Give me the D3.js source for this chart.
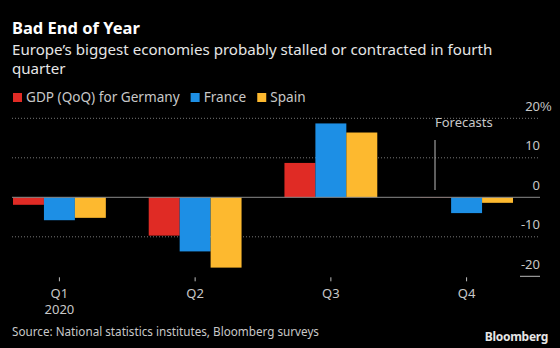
<!DOCTYPE html>
<html>
<head>
<meta charset="utf-8">
<script src="https://cdn.jsdelivr.net/npm/d3@7"></script>
<style>
  body { margin: 0; background: #000; }
  svg { display: block; font-family: "Noto Sans", sans-serif; }
</style>
</head>
<body>
<div id="container"></div>
<script>
let w = 560;
let h = 348;

// quarterly GDP change, percent
let quarters = ["Q1", "Q2", "Q3", "Q4"];
let germany = [-1.9, -9.7, 8.7, -0.1];
let france = [-5.8, -13.7, 18.7, -4.0];
let spain = [-5.2, -17.8, 16.4, -1.4];
let seriesNames = ["GDP (QoQ) for Germany", "France", "Spain"];
let yTicks = [20, 10, 0, -10, -20];

let colors = ["#e02b25", "#1d8fe5", "#fdb92f"];

let viz = d3.select("#container")
  .append("svg")
  .attr("width", w)
  .attr("height", h)
  .style("background", "#000");

// headline
viz.append("text")
  .attr("x", 12).attr("y", 34)
  .attr("fill", "#fff")
  .attr("font-size", 16.5).attr("font-weight", "bold")
  .text("Bad End of Year");

let sub = viz.append("text")
  .attr("x", 12).attr("y", 55)
  .attr("fill", "#e6e6e6")
  .attr("font-size", 15.1);
sub.append("tspan").attr("x", 12).text("Europe’s biggest economies probably stalled or contracted in fourth");
sub.append("tspan").attr("x", 12).attr("dy", 18.5).text("quarter");

// legend
let legend = viz.append("g").attr("transform", "translate(13, 0)");
let lx = 0;
seriesNames.forEach(function (name, i) {
  let g = legend.append("g").attr("transform", "translate(" + lx + ",0)");
  g.append("rect")
    .attr("x", 0).attr("y", 93)
    .attr("width", 9).attr("height", 9)
    .attr("fill", colors[i]);
  let t = g.append("text")
    .attr("x", 13).attr("y", 102)
    .attr("fill", "#c8c8c8")
    .attr("font-size", 13.6)
    .text(name);
  lx += 13 + t.node().getComputedTextLength() + 11;
});

// scales
let xScale = d3.scaleBand().domain(quarters).range([13, 513]).paddingInner(0.316);
let series = [germany, france, spain];
let inner = d3.scaleBand().domain([0, 1, 2]).range([0, xScale.bandwidth()]);
let yScale = d3.scaleLinear().domain([-20, 20]).range([276.3, 118.3]);

// gridlines
viz.append("g").selectAll("line")
  .data(yTicks.filter(function (d) { return d !== 0 && d !== -20; }))
  .enter().append("line")
  .attr("x1", 12).attr("x2", 540)
  .attr("y1", function (d) { return yScale(d); })
  .attr("y2", function (d) { return yScale(d); })
  .attr("stroke", "#777")
  .attr("stroke-width", 1)
  .attr("stroke-dasharray", "1,2");

// bars
let groups = viz.append("g").selectAll("g")
  .data(quarters)
  .enter().append("g")
  .attr("transform", function (d) { return "translate(" + xScale(d) + ",0)"; });

groups.selectAll("rect")
  .data(function (q, qi) {
    return series.map(function (s, si) { return { si: si, v: s[qi] }; });
  })
  .enter().append("rect")
  .attr("x", function (d) { return inner(d.si); })
  .attr("width", inner.bandwidth())
  .attr("y", function (d) { return yScale(Math.max(0, d.v)); })
  .attr("height", function (d) { return Math.abs(yScale(d.v) - yScale(0)); })
  .attr("fill", function (d) { return colors[d.si]; });

// zero line
viz.append("line")
  .attr("x1", 12).attr("x2", 540)
  .attr("y1", yScale(0)).attr("y2", yScale(0))
  .attr("stroke", "#8a8a8a")
  .attr("stroke-width", 1);

// y axis labels on the right, sitting above each gridline
let yAxis = d3.axisRight(yScale)
  .tickValues(yTicks)
  .tickSize(0)
  .tickFormat(function (d) { return d; });
let yAxisGroup = viz.append("g").attr("class", "yaxis")
  .attr("transform", "translate(540,0)")
  .call(yAxis);
yAxisGroup.select(".domain").remove();
yAxisGroup.selectAll("text")
  .attr("x", 0).attr("dy", -8)
  .attr("text-anchor", "end")
  .attr("fill", "#c8c8c8")
  .attr("font-size", 13)
  .attr("font-family", "Noto Sans, sans-serif");
yAxisGroup.selectAll(".tick")
  .filter(function (d) { return d === 20; })
  .append("text")
  .attr("x", 0).attr("dy", -8)
  .attr("fill", "#c8c8c8")
  .attr("font-size", 13)
  .text("%");
viz.append("line")
  .attr("x1", 520).attr("x2", 540)
  .attr("y1", yScale(-20)).attr("y2", yScale(-20))
  .attr("stroke", "#bbb");

// x axis
let xAxis = d3.axisBottom(xScale).tickSize(4).tickPadding(7);
let xAxisGroup = viz.append("g").attr("class", "xaxis")
  .attr("transform", "translate(0," + (yScale(-20) + 1) + ")")
  .call(xAxis);
xAxisGroup.select(".domain").remove();
xAxisGroup.selectAll("line").attr("stroke", "#bbb");
xAxisGroup.selectAll("text")
  .attr("fill", "#c8c8c8")
  .attr("font-size", 13)
  .attr("font-family", "Noto Sans, sans-serif");
xAxisGroup.selectAll(".tick")
  .filter(function (d) { return d === "Q1"; })
  .append("text")
  .attr("y", 36.5)
  .attr("fill", "#c8c8c8")
  .attr("font-size", 13)
  .attr("font-family", "Noto Sans, sans-serif")
  .attr("text-anchor", "middle")
  .text("2020");

// forecast marker
viz.append("line")
  .attr("x1", 435).attr("x2", 435)
  .attr("y1", 140).attr("y2", 190)
  .attr("stroke", "#bbb");
viz.append("text")
  .attr("x", 435).attr("y", 127)
  .attr("fill", "#c8c8c8")
  .attr("font-size", 13)
  .text("Forecasts");

// footer
viz.append("text")
  .attr("x", 12).attr("y", 335.5)
  .attr("fill", "#c8c8c8")
  .attr("font-size", 11.7)
  .text("Source: National statistics institutes, Bloomberg surveys");
viz.append("text")
  .attr("x", 548).attr("y", 340.5)
  .attr("text-anchor", "end")
  .attr("fill", "#e6e6e6")
  .attr("font-size", 12)
  .attr("font-weight", "bold")
  .attr("letter-spacing", -0.3)
  .text("Bloomberg");
</script>
</body>
</html>
